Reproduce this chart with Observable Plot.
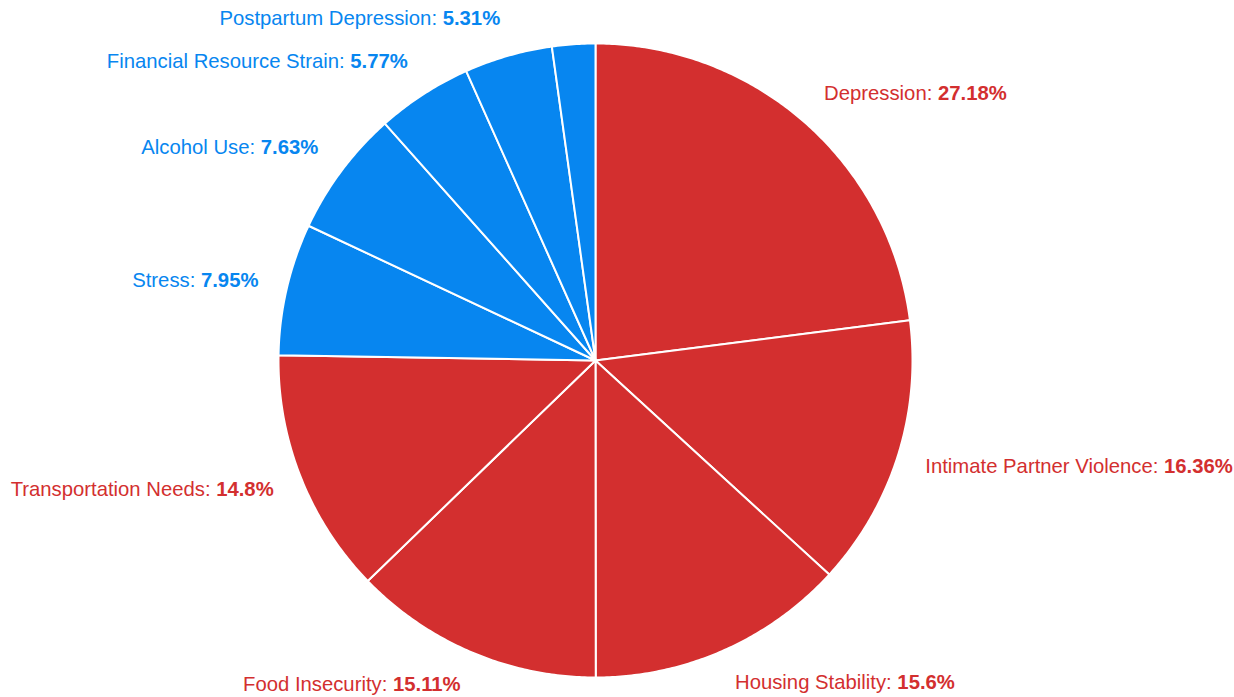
<!DOCTYPE html>
<html>
<head>
<meta charset="utf-8">
<script src="https://cdn.jsdelivr.net/npm/d3@7"></script>
<script src="https://cdn.jsdelivr.net/npm/@observablehq/plot@0.6"></script>
<style>
  html, body { margin: 0; padding: 0; background: #ffffff; }
  #chart svg { display: block; background: #ffffff; }
</style>
</head>
<body>
<div id="chart"></div>
<script>
// ---- Data ----
const categories = [
  "Depression", "Intimate Partner Violence", "Housing Stability", "Food Insecurity",
  "Transportation Needs", "Stress", "Alcohol Use", "Financial Resource Strain",
  "Postpartum Depression", "Other"
];
const values = [27.18, 16.36, 15.6, 15.11, 14.8, 7.95, 7.63, 5.77, 5.31, 2.6];
const groups = ["high", "high", "high", "high", "high", "low", "low", "low", "low", "low"];
const showLabel = [true, true, true, true, true, true, true, true, true, false];
const groupColors = { high: "#D32F2F", low: "#0786F0" };

// ---- Geometry (derived from data via d3.pie) ----
const W = 1234, H = 697;
const R = 317;
const rows = categories.map((c, i) => ({ cat: c, value: values[i], group: groups[i], show: showLabel[i] }));
const arcs = d3.pie().sort(null).value(d => d.value).startAngle(0).endAngle(2 * Math.PI)(rows);

const polyPts = [];
arcs.forEach(a => {
  const color = groupColors[a.data.group];
  polyPts.push({ cat: a.data.cat, color, x: 0, y: 0 });
  const n = Math.max(2, Math.ceil((a.endAngle - a.startAngle) / (Math.PI / 360)));
  for (let k = 0; k <= n; k++) {
    const t = a.startAngle + (a.endAngle - a.startAngle) * k / n;
    polyPts.push({ cat: a.data.cat, color, x: R * Math.sin(t), y: R * Math.cos(t) });
  }
  polyPts.push({ cat: a.data.cat, color, x: 0, y: 0 });
});

const labels = arcs.filter(a => a.data.show).map(a => {
  const m = (a.startAngle + a.endAngle) / 2;
  const c = Math.cos(m);
  return {
    name: a.data.cat,
    val: String(a.data.value) + "%",
    text: a.data.cat + ": " + a.data.value + "%",
    color: groupColors[a.data.group],
    x: 346 * Math.sin(m),
    y: (c >= 0 ? 356 : 352) * c,
    right: Math.sin(m) >= 0
  };
});

const textOpts = {
  x: "x", y: "y", text: "text", fill: "color",
  fontSize: 20.3, fontFamily: "'Liberation Sans', Arial, Helvetica, sans-serif"
};

const plot = Plot.plot({
  width: W,
  height: H,
  margin: 0,
  x: { domain: [-595, W - 595], axis: null },
  y: { domain: [-(H - 360), 360], axis: null },
  color: { type: "identity" },
  marks: [
    Plot.line(polyPts, {
      x: "x", y: "y", z: "cat", fill: "color",
      stroke: "#ffffff", strokeWidth: 2, strokeLinejoin: "round", curve: "linear"
    }),
    Plot.text(labels.filter(d => d.right), { ...textOpts, textAnchor: "start" }),
    Plot.text(labels.filter(d => !d.right), { ...textOpts, textAnchor: "end" })
  ]
});

// make the value part bold (still real text)
const allLabels = labels.filter(d => d.right).concat(labels.filter(d => !d.right));
const textEls = plot.querySelectorAll('g[aria-label="text"] text');
textEls.forEach((el, i) => {
  const d = allLabels[i];
  if (!d) return;
  while (el.firstChild) el.removeChild(el.firstChild);
  const ns = "http://www.w3.org/2000/svg";
  const t1 = document.createElementNS(ns, "tspan");
  t1.textContent = d.name + ": ";
  const t2 = document.createElementNS(ns, "tspan");
  t2.setAttribute("font-weight", "bold");
  t2.textContent = d.val;
  el.appendChild(t1);
  el.appendChild(t2);
});

document.getElementById("chart").appendChild(plot);
</script>
</body>
</html>
